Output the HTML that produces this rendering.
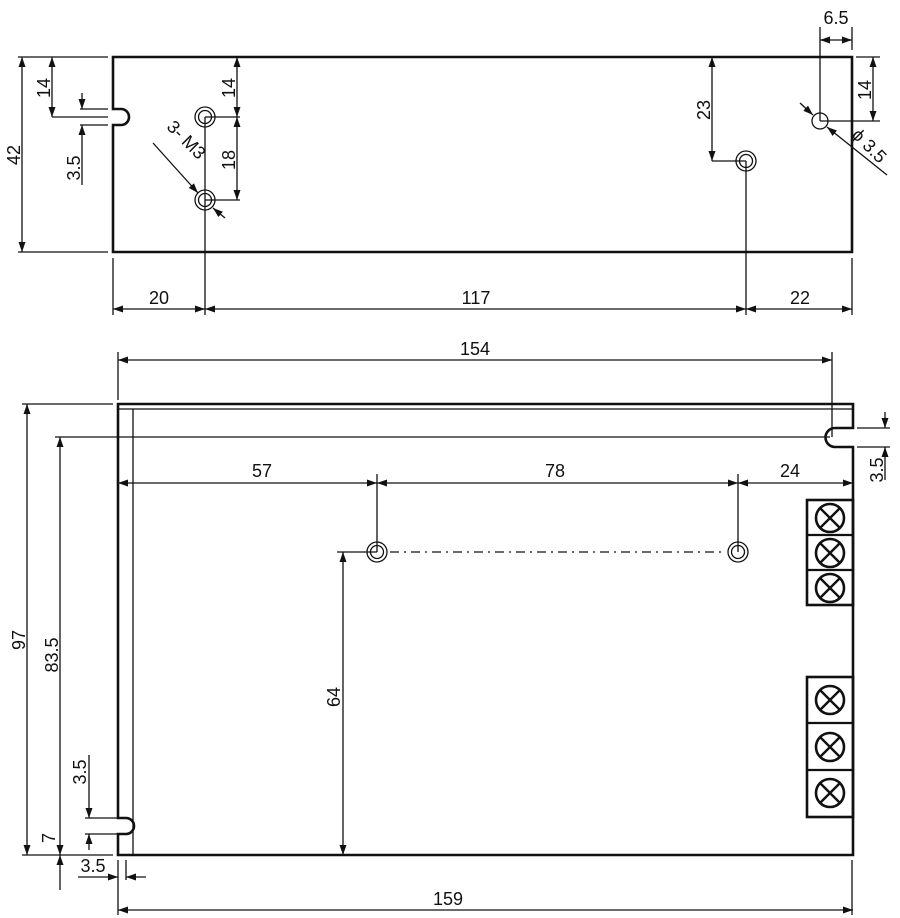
<!DOCTYPE html>
<html><head><meta charset="utf-8"><style>body{margin:0;background:#fff}svg{display:block}text{font-family:"Liberation Sans",sans-serif;font-size:18px;fill:#111}</style></head><body>
<svg width="900" height="918" viewBox="0 0 900 918" xmlns="http://www.w3.org/2000/svg">
<defs>
<marker id="a" viewBox="0 0 10 10" refX="10" refY="5" markerWidth="10" markerHeight="10" markerUnits="userSpaceOnUse" orient="auto-start-reverse"><path d="M0,1.5 L10,5 L0,8.5z" fill="#111"/></marker>
<g id="tb"><circle r="14" fill="none" stroke="#111" stroke-width="2.6"/><path d="M-10,-10L10,10M10,-10L-10,10" stroke="#111" stroke-width="2.4"/></g>
</defs>
<g stroke="#111" fill="none" stroke-width="1.3">
<path d="M113,57 H852 V252 H113 V125 H121 A8,8 0 0 0 121,109 H113 Z" stroke-width="2.6"/>
<circle cx="205" cy="117" r="10"/><circle cx="205" cy="117" r="6.5"/>
<circle cx="205" cy="200" r="10"/><circle cx="205" cy="200" r="6.5"/>
<circle cx="746" cy="161" r="10"/><circle cx="746" cy="161" r="6.5"/>
<circle cx="820" cy="121" r="8"/>
<path d="M18,57H108M18,252H108M52,117H108M80,109H108M80,125H108"/>
<path d="M205,117V315M205,117H240M205,200H240M746,161V315M712,161H746M820,121V27M852,27V50M820,121H880M856,57H880M113,258V315M852,258V315"/>
</g>
<g stroke="#111" stroke-width="1.3" marker-start="url(#a)" marker-end="url(#a)">
<line x1="22" y1="57" x2="22" y2="252"/>
<line x1="52" y1="57" x2="52" y2="117"/>
<line x1="237" y1="57" x2="237" y2="117"/>
<line x1="237" y1="117" x2="237" y2="200"/>
<line x1="712" y1="57" x2="712" y2="161"/>
<line x1="873" y1="57" x2="873" y2="121"/>
<line x1="820" y1="40" x2="852" y2="40"/>
<line x1="113" y1="309" x2="205" y2="309"/>
<line x1="205" y1="309" x2="746" y2="309"/>
<line x1="746" y1="309" x2="852" y2="309"/>
<line x1="118" y1="360" x2="832" y2="360"/>
<line x1="27" y1="404" x2="27" y2="855"/>
<line x1="60" y1="437" x2="60" y2="855"/>
<line x1="118" y1="483" x2="377" y2="483"/>
<line x1="377" y1="483" x2="738" y2="483"/>
<line x1="738" y1="483" x2="853" y2="483"/>
<line x1="343" y1="552" x2="343" y2="855"/>
<line x1="118" y1="910" x2="853" y2="910"/>
</g>
<g stroke="#111" stroke-width="1.3" marker-end="url(#a)">
<line x1="82" y1="93" x2="82" y2="109"/>
<line x1="82" y1="185" x2="82" y2="125"/>
<line x1="153" y1="143" x2="198" y2="193"/>
<line x1="225" y1="218" x2="213" y2="208"/>
<line x1="800" y1="103" x2="813" y2="115"/>
<line x1="887" y1="175" x2="827" y2="127"/>
<line x1="885" y1="412" x2="885" y2="428"/>
<line x1="885" y1="480" x2="885" y2="447"/>
<line x1="89" y1="755" x2="89" y2="818"/>
<line x1="89" y1="850" x2="89" y2="834"/>
<line x1="60" y1="890" x2="60" y2="855"/>
<line x1="78" y1="877" x2="118" y2="877"/>
<line x1="146" y1="877" x2="126" y2="877"/>
</g>
<g stroke="#111" fill="none" stroke-width="1.3">
<path d="M118,404H853V428H835A9.5,9.5 0 0 0 835,447H853V855H118V834H126A8,8 0 0 0 126,818H118Z" stroke-width="2.6"/>
<path d="M118,409H853M133,409V855"/>
<circle cx="377" cy="552" r="10"/><circle cx="377" cy="552" r="6.5"/>
<circle cx="738" cy="552" r="10"/><circle cx="738" cy="552" r="6.5"/>
<path d="M390,552H726" stroke-dasharray="9,5,2,5"/>
<rect x="807" y="500" width="46" height="105" stroke-width="2.6"/><path d="M807,535H853M807,570H853" stroke-width="2.2"/>
<rect x="807" y="677" width="46" height="140" stroke-width="2.6"/><path d="M807,723H853M807,770H853" stroke-width="2.2"/>
<path d="M118,400V352M832,437V352M22,404H113M55,437H830M377,552V474M738,552V474M337,552H377M857,428H890M857,447H890M85,818H118M85,834H118M22,855H113M118,860V915M852,860V915M126,860V880"/>
</g>
<use href="#tb" x="830" y="518"/><use href="#tb" x="830" y="553"/><use href="#tb" x="830" y="588"/>
<use href="#tb" x="830" y="700"/><use href="#tb" x="830" y="747"/><use href="#tb" x="830" y="793"/>
<g text-anchor="middle">
<text transform="translate(20,155) rotate(-90)">42</text>
<text transform="translate(50,88) rotate(-90)">14</text>
<text transform="translate(80,168) rotate(-90)">3.5</text>
<text transform="translate(235,88) rotate(-90)">14</text>
<text transform="translate(235,160) rotate(-90)">18</text>
<text transform="translate(182,144) rotate(45)">3- M3</text>
<text transform="translate(710,110) rotate(-90)">23</text>
<text transform="translate(871,90) rotate(-90)">14</text>
<text x="836" y="24">6.5</text>
<text transform="translate(865,150) rotate(45)">ϕ 3.5</text>
<text x="159" y="304">20</text><text x="476" y="304">117</text><text x="800" y="304">22</text>
<text x="475" y="355">154</text>
<text x="262" y="477">57</text><text x="555" y="477">78</text><text x="790" y="477">24</text>
<text transform="translate(883,470) rotate(-90)">3.5</text>
<text transform="translate(25,640) rotate(-90)">97</text>
<text transform="translate(58,655) rotate(-90)">83.5</text>
<text transform="translate(340,697) rotate(-90)">64</text>
<text transform="translate(86,772) rotate(-90)">3.5</text>
<text transform="translate(55,838) rotate(-90)">7</text>
<text x="93" y="872">3.5</text>
<text x="448" y="905">159</text>
</g>
</svg>
</body></html>
